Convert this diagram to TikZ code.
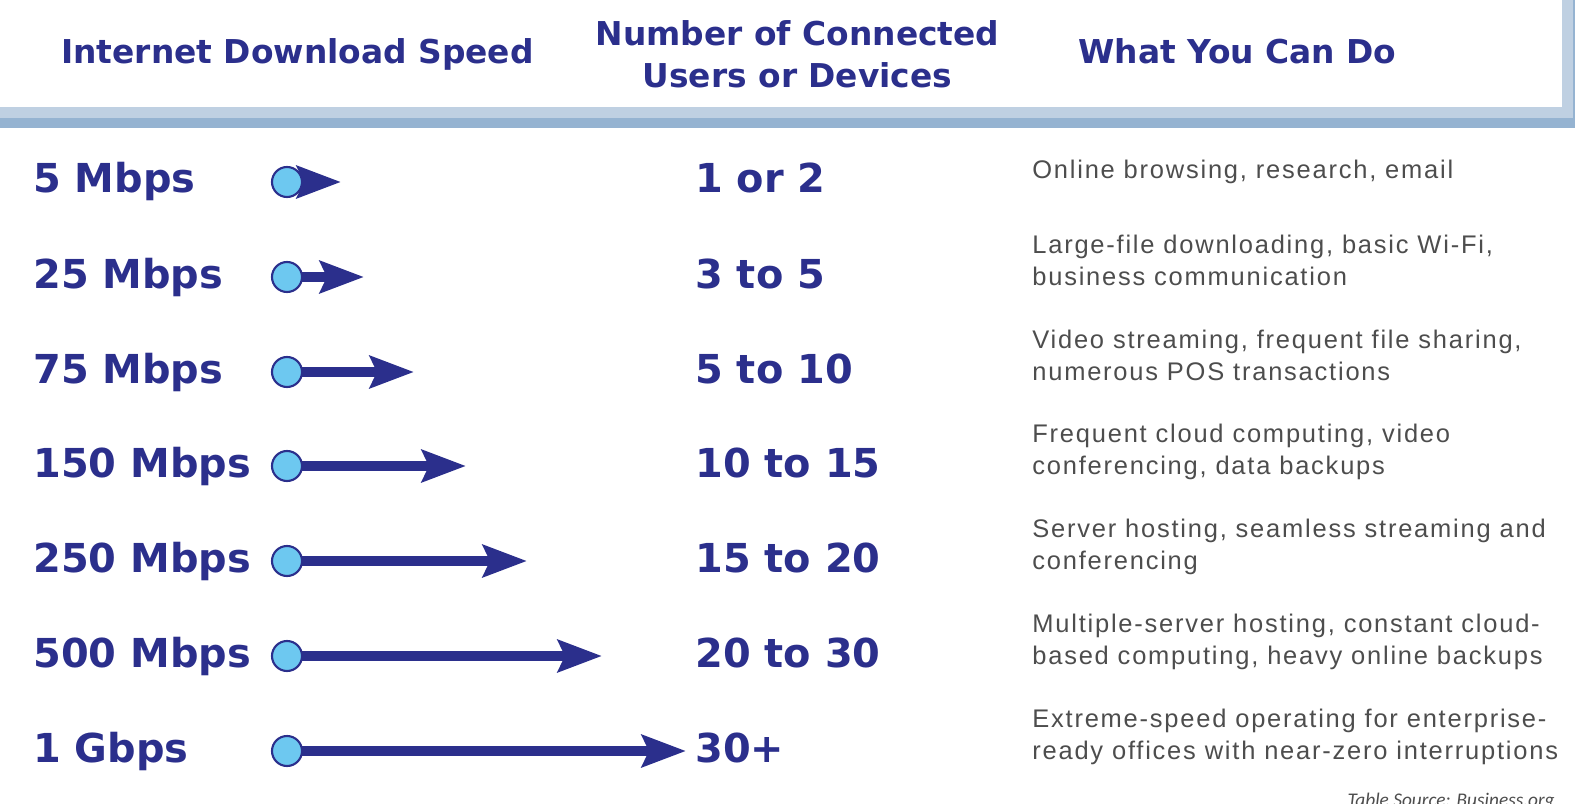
\documentclass[tikz,border=0pt]{standalone}
\usepackage{fontspec}
\setmainfont{Liberation Sans}
\newfontfamily\headfont{DejaVu Sans}
\newfontfamily\bodyfont[LetterSpace=7]{Liberation Sans}
\newfontfamily\notefont{Carlito}
\definecolor{net_navy}{RGB}{43, 47, 140}
\definecolor{net_sky}{RGB}{109, 200, 240}
\definecolor{net_text}{RGB}{77, 77, 77}
\definecolor{net_band}{RGB}{149, 179, 209}
\definecolor{net_bandlt}{RGB}{191, 208, 226}
\usetikzlibrary{arrows.meta, positioning}

\begin{document}
\begin{tikzpicture}[x=0.02cm, y=-0.02cm,
    head/.style={font=\headfont\bfseries\fontsize{18.7}{23.8}\selectfont,
      text=net_navy, align=center, inner sep=0},
    rate/.style={font=\headfont\bfseries\fontsize{22.7}{27}\selectfont,
      text=net_navy, inner sep=0, anchor=base west},
    use/.style={font=\bodyfont\fontsize{14.5}{18.1}\selectfont,
      text=net_text, align=left, inner sep=0, anchor=north west},
    dot/.style={circle, draw=net_navy, fill=net_sky, line width=1.2pt,
      minimum size=0.6cm, inner sep=0},
    speed/.style={net_navy, line width=6.2pt,
      -{Stealth[length=25pt, width=18.1pt, inset=4pt]}}]
        \useasboundingbox (0,0) rectangle (1575,804);

        % --- Header bands ---
        \fill[net_bandlt] (0,107) rectangle (1575,118);
        \fill[net_band] (0,118) rectangle (1575,128);
        \fill[net_bandlt] (1562,0) rectangle (1573,118);
        \fill[net_band] (1573,0) rectangle (1575,128);

        % --- Column titles ---
        \node[head, anchor=base] (hspeed) at (297.5,64) {Internet Download Speed};
        \node[head, anchor=north] (husers) at (797.5,20) {Number of Connected\\Users or Devices};
        \node[head, anchor=base] (hdo) at (1237.5,64) {What You Can Do};

        % --- Rows: speed, arrow, users ---
        \foreach \i/\y/\tip/\rate/\users in {
            1/182/341/5 Mbps/1 or 2,
            2/277/364/25 Mbps/3 to 5,
            3/372/414/75 Mbps/5 to 10,
            4/466/466/150 Mbps/10 to 15,
            5/561/527/250 Mbps/15 to 20,
            6/656/602/500 Mbps/20 to 30,
            7/751/686/1 Gbps/30+} {
          \node[rate] (rate\i) at (33,\y+11) {\rate};
          \coordinate (src\i) at (287,\y);
          \coordinate (tip\i) at (\tip,\y);
          \draw[speed] (src\i) -- (tip\i);
          \node[dot] (dot\i) at (src\i) {};
          \node[rate] (users\i) at (695,\y+11) {\users};
        }

        % --- What you can do ---
        \node[use] (use1) at (1032,160) {Online browsing, research, email};
        \node[use] (use2) at (1032,235) {Large-file downloading, basic Wi-Fi,\\business communication};
        \node[use] (use3) at (1032,330) {Video streaming, frequent file sharing,\\numerous POS transactions};
        \node[use] (use4) at (1032,424) {Frequent cloud computing, video\\conferencing, data backups};
        \node[use] (use5) at (1032,519) {Server hosting, seamless streaming and\\conferencing};
        \node[use] (use6) at (1032,614) {Multiple-server hosting, constant cloud-\\based computing, heavy online backups};
        \node[use] (use7) at (1032,709) {Extreme-speed operating for enterprise-\\ready offices with near-zero interruptions};

        \node[font=\notefont\itshape\fontsize{11}{13}\selectfont, text=net_text,
              inner sep=0, anchor=base east] (source) at (1555,806) {Table Source: Business.org};
      \end{tikzpicture}
\end{document}
